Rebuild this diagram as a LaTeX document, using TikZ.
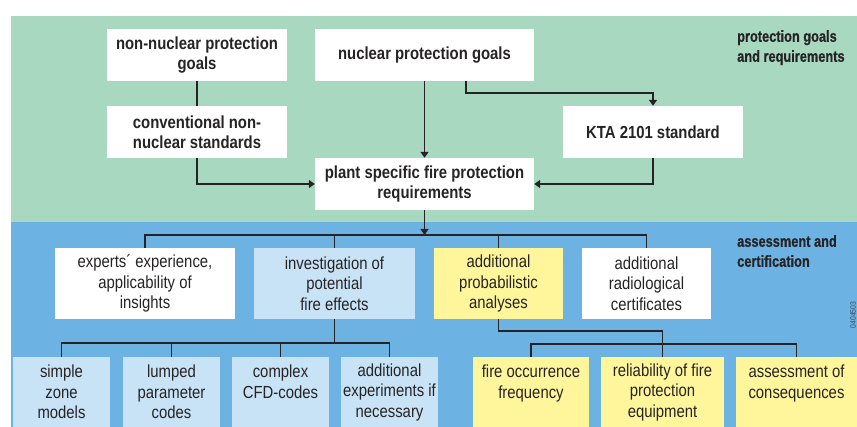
\documentclass[tikz,border=0pt]{standalone}
\usepackage{fontspec}
\setmainfont{Liberation Sans}[FakeStretch=0.85]
\newfontfamily\labfont{Liberation Sans}[FakeStretch=0.8,FakeBold=0.6]
\usetikzlibrary{arrows.meta,calc}
\definecolor{bggreen}{RGB}{168,216,192}
\definecolor{bgblue}{RGB}{108,178,226}
\definecolor{ltblue}{RGB}{200,227,246}
\definecolor{ltyellow}{RGB}{255,246,155}
\definecolor{ink}{RGB}{38,35,36}
\begin{document}
\begin{tikzpicture}[x=1pt,y=1pt,yscale=-1,
  box/.style={rectangle,inner sep=0pt,align=center,text=ink},
  topbox/.style={box,fill=white,font=\bfseries\fontsize{17.5}{19.5}\selectfont},
  lowbox/.style={box,font=\fontsize{17.5}{20.5}\selectfont},
  conn/.style={draw=ink,line width=1.4pt},
  arr/.style={conn,-{Triangle[width=8pt,length=6pt]}},
  lab/.style={anchor=north west,inner sep=0pt,align=left,text=ink,font=\labfont\bfseries\fontsize{16}{20}\selectfont}]
\useasboundingbox (0,0) rectangle (857,427);
\fill[white] (0,0) rectangle (857,427);
\fill[bggreen] (11,16) rectangle (857,222);
\fill[bgblue] (11,222) rectangle (857,427);
% top section
\node[topbox,minimum width=180pt,minimum height=52pt] (nng) at (197,55) {non-nuclear protection\\goals};
\node[topbox,minimum width=219pt,minimum height=52pt] (npg) at (424.5,55) {nuclear protection goals};
\node[topbox,minimum width=180pt,minimum height=52pt] (cnn) at (197,132) {conventional non-\\nuclear standards};
\node[topbox,minimum width=219pt,minimum height=52pt] (psr) at (424.5,184) {plant specific fire protection\\requirements};
\node[topbox,minimum width=180pt,minimum height=52pt] (kta) at (653,132) {KTA 2101 standard};
\node[lab] (lab1) at (737,30) {protection goals\\and requirements};
\draw[conn] (nng.south) -- (cnn.north);
\draw[arr] (cnn.south) |- (psr.west);
\draw[arr] (npg.south) -- (psr.north);
\draw[arr] ([xshift=41.5pt]npg.south) -- ++(0,12) -| (kta.north);
\draw[arr] (kta.south) |- (psr.east);
% assessment section
\node[lab] (lab2) at (737,235) {assessment and\\certification};
\node[lowbox,fill=white,minimum width=180pt,minimum height=71pt] (exp) at (145,283.5) {experts´ experience,\\applicability of\\insights};
\node[lowbox,fill=ltblue,minimum width=161pt,minimum height=71pt] (inv) at (334.5,283.5) {investigation of\\potential\\fire effects};
\node[lowbox,fill=ltyellow,minimum width=129pt,minimum height=71pt] (pro) at (498.5,283.5) {additional\\probabilistic\\analyses};
\node[lowbox,fill=white,minimum width=129pt,minimum height=71pt] (rad) at (646.5,283.5) {additional\\radiological\\certificates};
\coordinate (bus1) at (424.5,235);
\draw[arr] (psr.south) -- (bus1);
\draw[conn] (exp.north) -- (exp.north |- bus1) -- (rad.north |- bus1) -- (rad.north);
\draw[conn] (inv.north) -- (inv.north |- bus1);
\draw[conn] (pro.north) -- (pro.north |- bus1);
% row 2
\node[lowbox,fill=ltblue,minimum width=97pt,minimum height=70pt] (szm) at (61.5,392) {simple\\zone\\models};
\node[lowbox,fill=ltblue,minimum width=97pt,minimum height=70pt] (lpc) at (171.5,392) {lumped\\parameter\\codes};
\node[lowbox,fill=ltblue,minimum width=97pt,minimum height=70pt] (cfd) at (280.5,392) {complex\\CFD-codes\\\mbox{}};
\node[lowbox,fill=ltblue,minimum width=97pt,minimum height=70pt] (aex) at (389.5,392) {additional\\experiments if\\necessary};
\node[lowbox,fill=ltyellow,minimum width=116pt,minimum height=70pt] (foc) at (531,392) {fire occurrence\\frequency\\\mbox{}};
\node[lowbox,fill=ltyellow,minimum width=123pt,minimum height=70pt] (rel) at (662.5,392) {reliability of fire\\protection\\equipment};
\node[lowbox,fill=ltyellow,minimum width=121pt,minimum height=70pt] (aoc) at (796.5,392) {assessment of\\consequences\\\mbox{}};
\coordinate (bus2) at (334.5,343);
\draw[conn] (inv.south) -- (bus2);
\draw[conn] (szm.north) -- (szm.north |- bus2) -- (aex.north |- bus2) -- (aex.north);
\draw[conn] (lpc.north) -- (lpc.north |- bus2);
\draw[conn] (cfd.north) -- (cfd.north |- bus2);
\coordinate (bus3) at (662.5,344);
\draw[conn] (pro.south) -- ++(0,12) -| (rel.north);
\draw[conn] (foc.north) -- (foc.north |- bus3) -- (aoc.north |- bus3) -- (aoc.north);
\node[rotate=90,inner sep=0pt,text=ink!70!bgblue,font=\fontsize{8}{8}\selectfont] (code) at (853,315) {0404503};
\end{tikzpicture}
\end{document}
